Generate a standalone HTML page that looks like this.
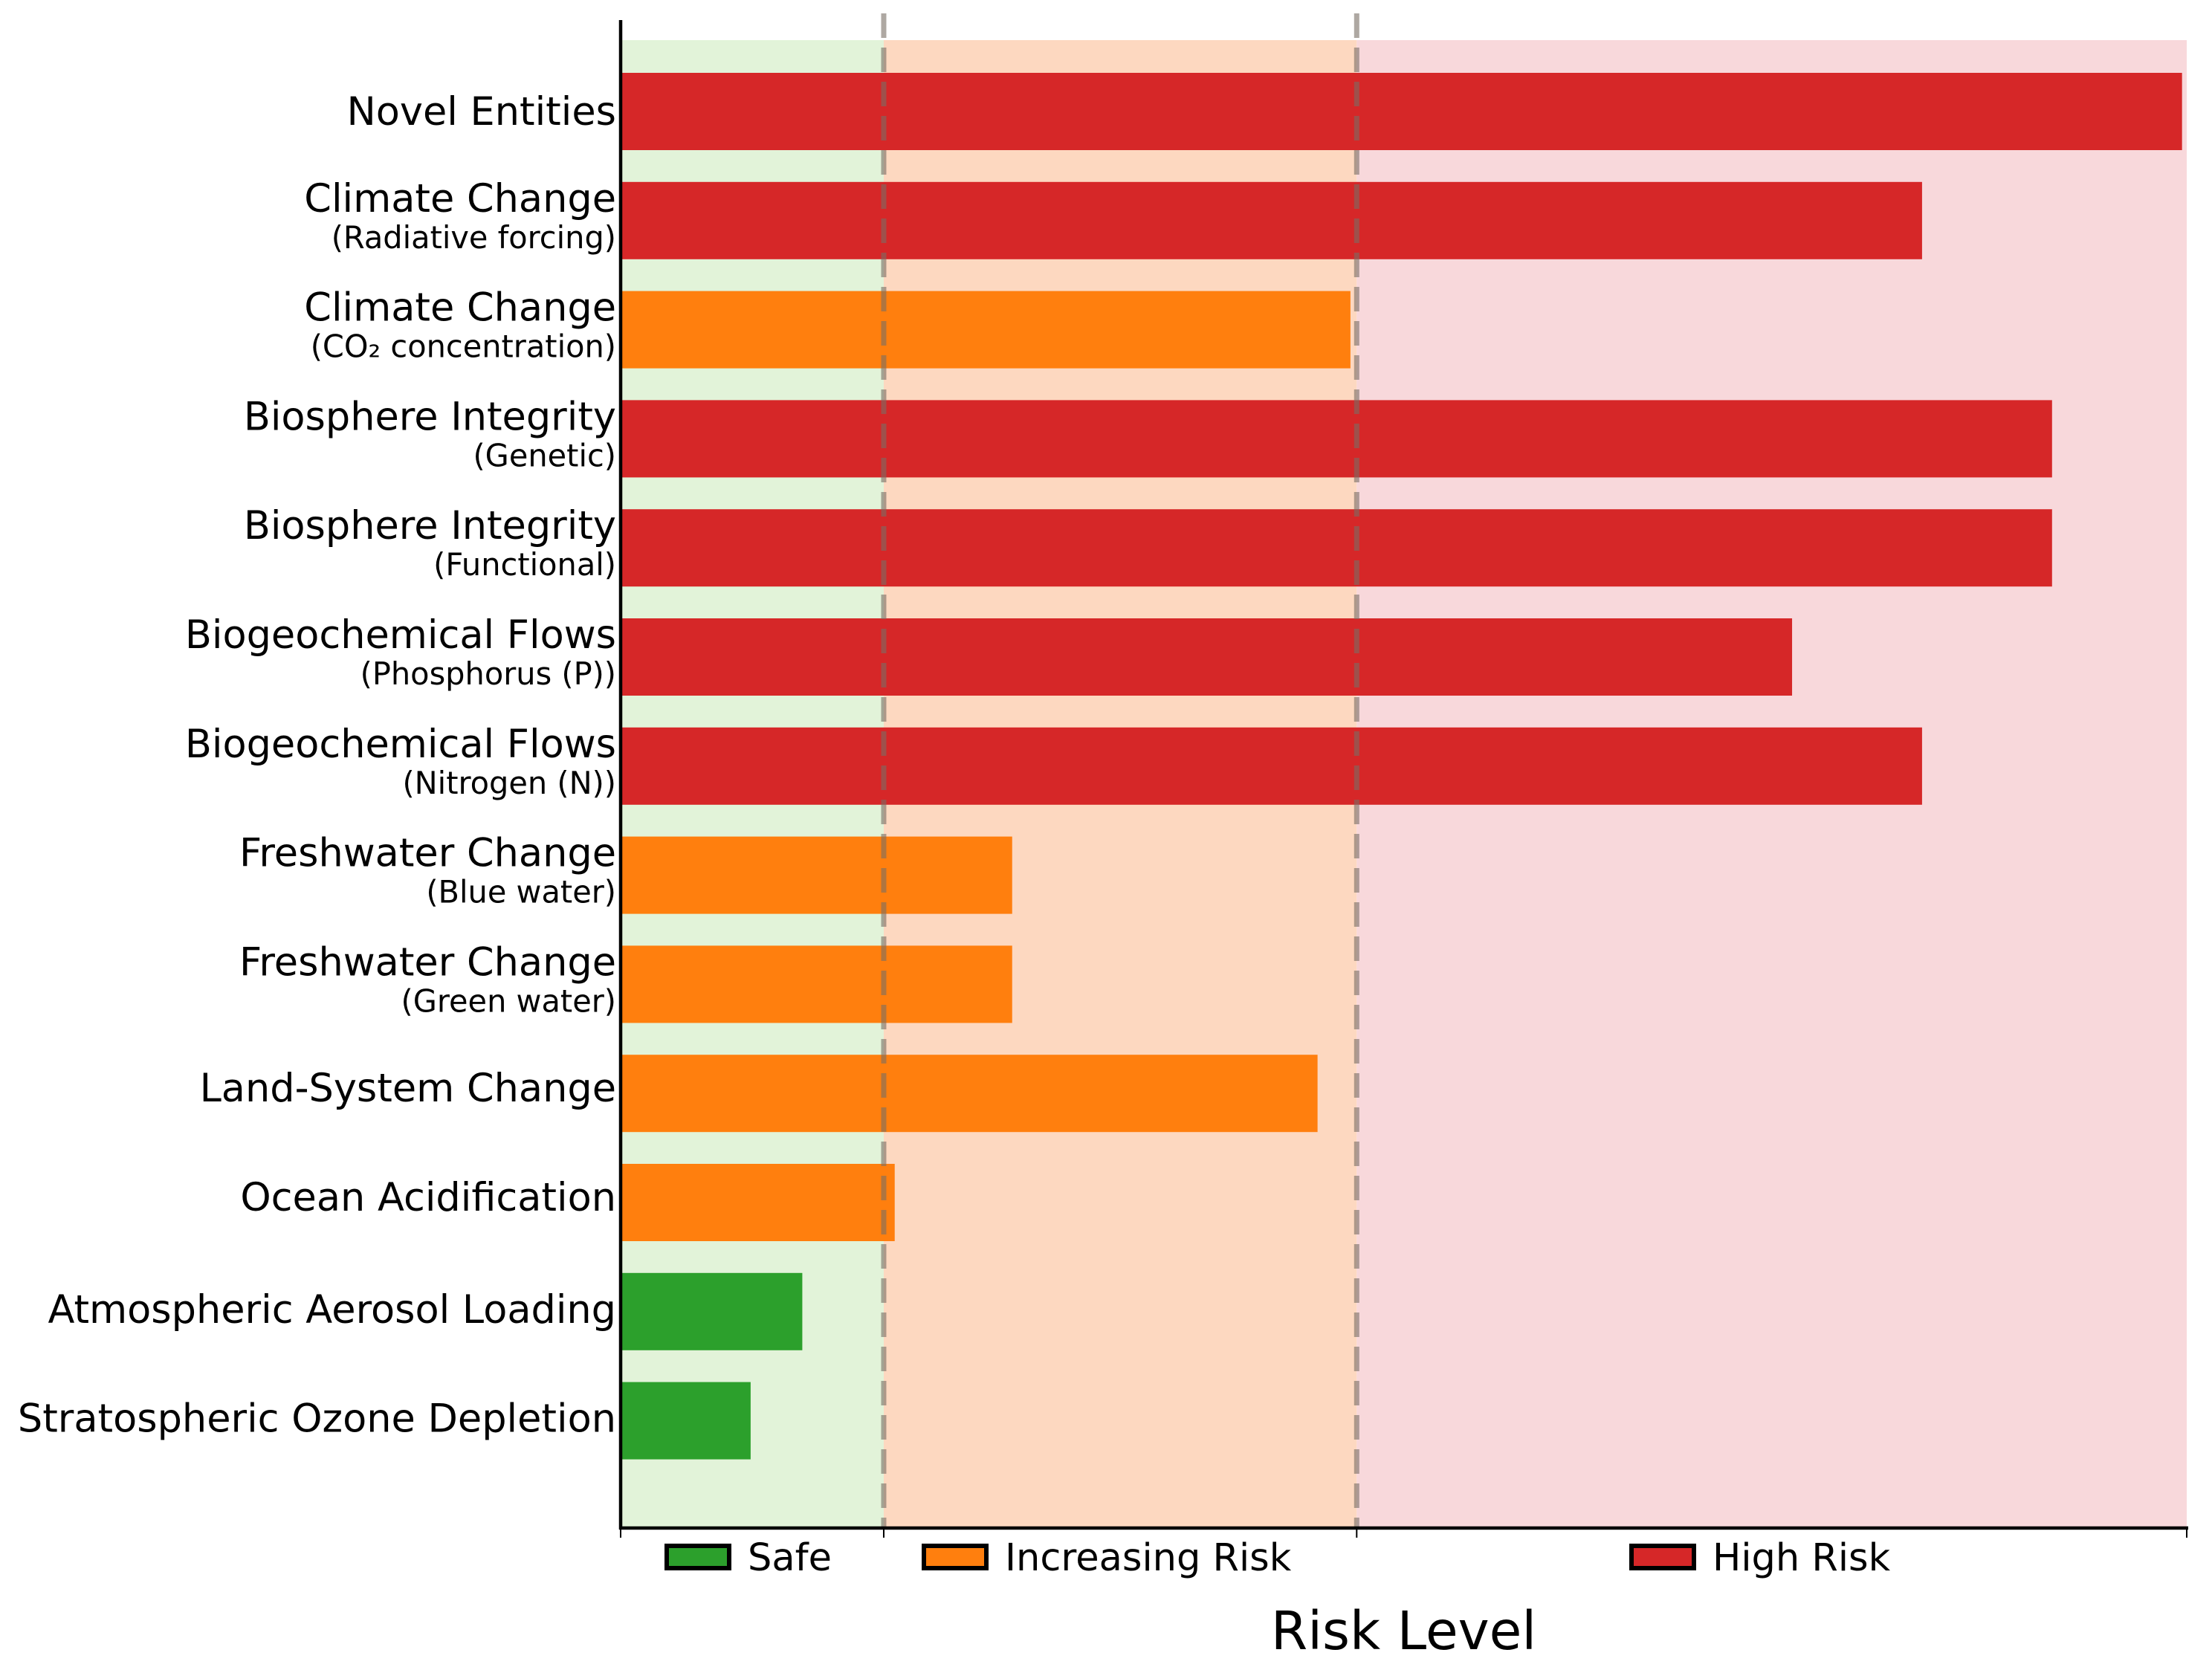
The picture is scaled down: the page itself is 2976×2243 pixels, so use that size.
<!DOCTYPE html>
<html><head><meta charset="utf-8"><style>
html,body{margin:0;padding:0;background:#fff}
svg{display:block}
text{font-family:"DejaVu Sans","Liberation Sans",sans-serif;fill:#000}
</style></head><body>
<svg id="chart" width="2976" height="2243" xmlns="http://www.w3.org/2000/svg"></svg>
<script>
const categories = ["Novel Entities","Climate Change","Climate Change","Biosphere Integrity","Biosphere Integrity","Biogeochemical Flows","Biogeochemical Flows","Freshwater Change","Freshwater Change","Land-System Change","Ocean Acidification","Atmospheric Aerosol Loading","Stratospheric Ozone Depletion"];
const subLabels = ["","(Radiative forcing)","(CO₂ concentration)","(Genetic)","(Functional)","(Phosphorus (P))","(Nitrogen (N))","(Blue water)","(Green water)","","","",""];
const values = [0.997,0.831,0.466,0.914,0.914,0.748,0.831,0.250,0.250,0.445,0.175,0.116,0.083];
const riskLevels = ["high","high","increasing","high","high","high","high","increasing","increasing","increasing","increasing","safe","safe"];
const zoneBounds = [0,0.168,0.470,1.0];
const legendLabels = ["Safe","Increasing Risk","High Risk"];

const NS="http://www.w3.org/2000/svg";
const svg=document.getElementById('chart');
const X0=835,X1=2942,TOP=54,BOTTOM=2056;
const xs=v=>X0+(X1-X0)*v;
const yc=i=>150+i*146.8;
const BH=104;
const colors={safe:"#2ca02c",increasing:"#ff7f0e",high:"#d62728"};
function mk(tag,attrs){const e=document.createElementNS(NS,tag);for(const k in attrs)e.setAttribute(k,attrs[k]);svg.appendChild(e);return e;}

const zoneColors=["#e2f3d9","#fdd8c0","#f8d8db"];
const zoneNames=["safe-zone","increasing-risk-zone","high-risk-zone"];
for(let z=0;z<3;z++){
  const r=mk('rect',{x:xs(zoneBounds[z]),y:TOP,width:xs(zoneBounds[z+1])-xs(zoneBounds[z]),height:BOTTOM-TOP,fill:zoneColors[z]});
  
  
}
values.forEach((v,i)=>{
  const r=mk('rect',{x:X0,y:yc(i)-BH/2,width:xs(v)-X0,height:BH,fill:colors[riskLevels[i]]});
  
  
  if(subLabels[i]){
    const t=mk('text',{x:829,y:yc(i)-12,'text-anchor':'end','font-size':52.5});
    t.textContent=categories[i];
    
    
    const s=mk('text',{x:829,y:yc(i)+37,'text-anchor':'end','font-size':41.5});
    s.textContent=subLabels[i];
    
    
  } else {
    const off = i===0 ? 18 : (i>=11 ? 15 : 11);
    const t=mk('text',{x:829,y:yc(i)+off,'text-anchor':'end','font-size':52.5});
    t.textContent=categories[i];
    
    
  }
});
[1,2].forEach(k=>{
  const l=mk('line',{x1:xs(zoneBounds[k]),x2:xs(zoneBounds[k]),y1:18,y2:BOTTOM,stroke:'rgba(120,110,100,0.6)','stroke-width':7,'stroke-dasharray':'33 13'});
  
  
});
const ly=mk('line',{x1:X0,x2:X0,y1:27,y2:BOTTOM+2,stroke:'#000','stroke-width':4.5});


const lx=mk('line',{x1:X0-2,x2:X1+2,y1:BOTTOM,y2:BOTTOM,stroke:'#000','stroke-width':4.5});


zoneBounds.forEach((b,k)=>{
  const t=mk('line',{x1:xs(b),x2:xs(b),y1:BOTTOM,y2:BOTTOM+13,stroke:'#000','stroke-width':2});
  
  
});
const legX=[894,1240,2192];
const legKeys=["safe","increasing","high"];
legendLabels.forEach((lab,k)=>{
  const p=mk('rect',{x:legX[k]+3,y:2080,width:84,height:30,fill:colors[legKeys[k]],stroke:'#000','stroke-width':6});
  
  
  const t=mk('text',{x:legX[k]+112,y:2113,'font-size':51});
  t.textContent=lab;
  
  
});
const xt=mk('text',{x:(X0+X1)/2,y:2219,'text-anchor':'middle','font-size':71});
xt.textContent="Risk Level";


</script>
</body></html>
